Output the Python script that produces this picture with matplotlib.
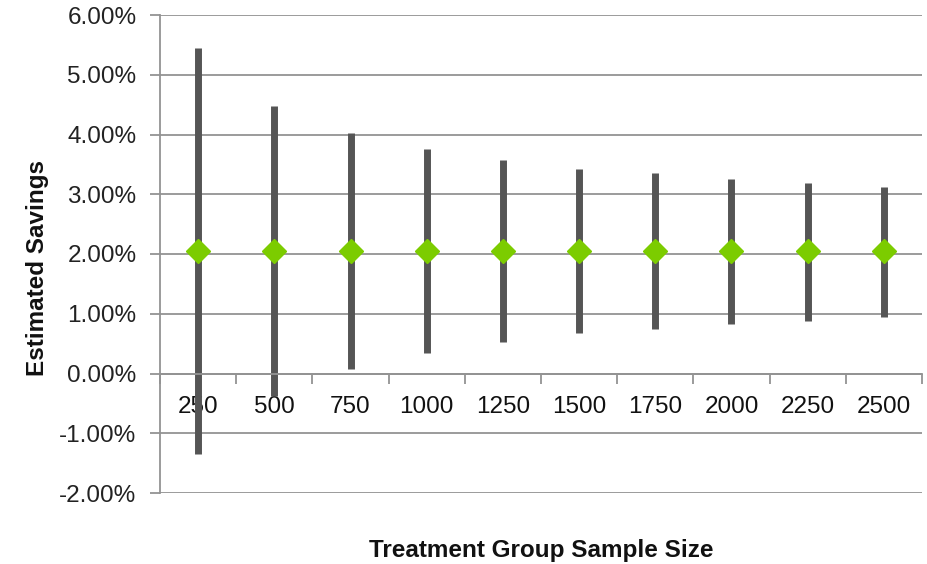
import matplotlib
matplotlib.use("Agg")
import matplotlib.pyplot as plt
from matplotlib.ticker import FuncFormatter

plt.rcParams['font.family'] = ['Liberation Sans', 'DejaVu Sans']

sample_sizes = ["250", "500", "750", "1000", "1250", "1500", "1750", "2000", "2250", "2500"]
estimate = [2.05, 2.05, 2.05, 2.05, 2.05, 2.05, 2.05, 2.05, 2.05, 2.05]
upper = [5.45, 4.47, 4.02, 3.75, 3.57, 3.43, 3.35, 3.25, 3.18, 3.12]
lower = [-1.35, -0.37, 0.08, 0.35, 0.53, 0.67, 0.74, 0.83, 0.88, 0.95]
y_ticks = [-2, -1, 0, 1, 2, 3, 4, 5, 6]

fig = plt.figure(figsize=(9.28, 5.64), dpi=100)
ax = fig.add_axes([160/928, 1-493/564, (922-160)/928, (493-15)/564])

grid_c = "#939393"
x = list(range(len(sample_sizes)))
ax.set_xlim(-0.5, len(sample_sizes) - 0.5)
ax.set_ylim(-2, 6)

for yv in y_ticks:
    ax.axhline(yv, color=grid_c, lw=1.3, zorder=1)

ax.vlines(x, lower, upper, color="#555555", lw=5, zorder=2)
ax.plot(x, estimate, linestyle="none", marker="D", markersize=12,
        color="#7ccc00", markeredgecolor="#7ccc00", zorder=3)

ax.set_yticks(y_ticks)
ax.yaxis.set_major_formatter(FuncFormatter(lambda v, p: f"{v:.2f}%"))
ax.tick_params(axis='y', length=7, width=1.3, color=grid_c, labelsize=17.5, pad=10,
               labelcolor="#222222")

ax.spines['top'].set_visible(False)
ax.spines['right'].set_visible(False)
ax.spines['left'].set_color(grid_c)
ax.spines['left'].set_linewidth(1.3)
ax.spines['bottom'].set_position(('data', 0))
ax.spines['bottom'].set_color(grid_c)
ax.spines['bottom'].set_linewidth(1.3)

ax.set_xticks([i - 0.5 for i in range(len(sample_sizes) + 1)], minor=False)
ax.set_xticklabels([""] * (len(sample_sizes) + 1))
ax.set_xticks(x, minor=True)
ax.set_xticklabels(sample_sizes, minor=True)
ax.tick_params(axis='x', which='major', length=7, width=1.3, color=grid_c, direction='out')
ax.tick_params(axis='x', which='minor', length=0, labelsize=17.5, pad=16, labelcolor="#111111")

fig.text(0.04, 1 - 268/564, "Estimated Savings", rotation=90,
         fontsize=17.5, fontweight='bold', ha='center', va='center', color="#111111")
fig.text(541/928, 1 - 551/564, "Treatment Group Sample Size", fontsize=17.5,
         fontweight='bold', ha='center', va='center', color="#111111")

fig.savefig("out.png", dpi=100)
